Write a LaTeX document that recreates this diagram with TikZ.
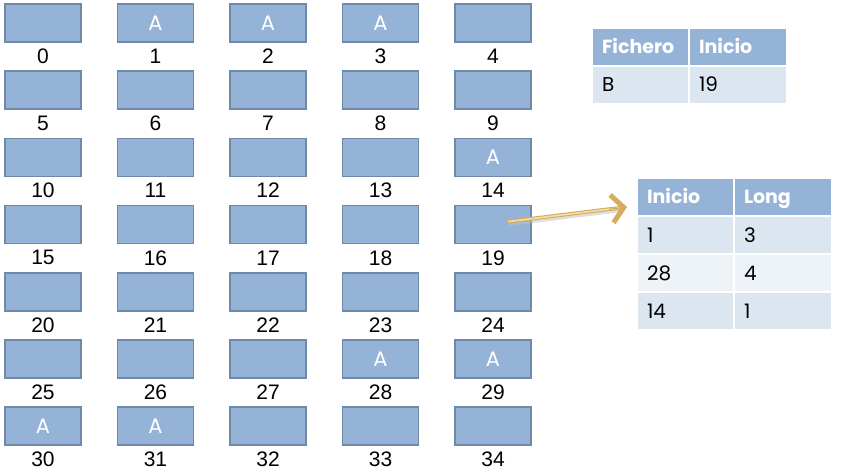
\documentclass[tikz,border=0pt]{standalone}
\usepackage{fontspec}
\setmainfont{Liberation Sans}
\newfontfamily\tabfont{Poppins}
\usetikzlibrary{arrows.meta,calc}
\definecolor{blk}{HTML}{95B3D7}
\definecolor{blkb}{HTML}{6F89A8}
\definecolor{rowa}{HTML}{DCE6F1}
\definecolor{rowb}{HTML}{EEF3F8}
\definecolor{goldc}{HTML}{D4AC5A}
\definecolor{goldl}{HTML}{F0DFAE}
\begin{document}
\begin{tikzpicture}[x=1pt,y=-1pt,
  block/.style={draw=blkb, fill=blk, line width=1.5pt, minimum width=76pt, minimum height=38pt,
    inner sep=0pt, font=\tabfont\fontsize{21}{21}\selectfont, text=white},
  num/.style={font=\fontsize{21}{21}\selectfont, inner sep=0pt},
  cell/.style={draw=white, line width=2pt, anchor=north west, inner xsep=10pt, inner ysep=0pt,
    minimum height=38pt, align=left, text height=14pt, text depth=0pt,
    font=\tabfont\fontsize{20}{20}\selectfont},
  hcell/.style={cell, fill=blk, text=white, font=\tabfont\bfseries\fontsize{19}{19}\selectfont},
  arrowshaft/.style={goldc, line width=1.1pt, double=goldl, double distance=1.6pt},
  arrowtip/.style={goldc, line width=1pt, -{Straight Barb[length=12pt,width=28pt,line width=5pt]}}]
\useasboundingbox (0,0) rectangle (853,473);
% blocks
\foreach \n/\t in {0/{},1/A,2/A,3/A,4/{},5/{},6/{},7/{},8/{},9/{},10/{},11/{},12/{},13/{},14/A,
  15/{},16/{},17/{},18/{},19/{},20/{},21/{},22/{},23/{},24/{},25/{},26/{},27/{},28/A,29/A,
  30/A,31/A,32/{},33/{},34/{}}{
  \pgfmathtruncatemacro\c{mod(\n,5)}
  \pgfmathtruncatemacro\r{div(\n,5)}
  \node[block] (b\n) at ({43+112.5*\c},{23+67.2*\r}) {\t};
  \node[num] (l\n) at ($(b\n.south)+(0,13.5)$) {\n};
}
% table 1
\node[hcell, text width=77pt] (fa) at (591,27) {Fichero};
\node[hcell, text width=78pt] (fb) at (688,27) {Inicio};
\node[cell, fill=rowa, text width=77pt] (fc) at (591,65) {B};
\node[cell, fill=rowa, text width=78pt] (fd) at (688,65) {19};
% table 2
\node[hcell, text width=77pt] (ta) at (636,177) {Inicio};
\node[hcell, text width=78pt] (tb) at (733,177) {Long};
\node[cell, fill=rowa, text width=77pt] (tc) at (636,215) {1};
\node[cell, fill=rowa, text width=78pt] (td) at (733,215) {3};
\node[cell, fill=rowb, text width=77pt] (te) at (636,253) {28};
\node[cell, fill=rowb, text width=78pt] (tf) at (733,253) {4};
\node[cell, fill=rowa, text width=77pt] (tg) at (636,291) {14};
\node[cell, fill=rowa, text width=78pt] (th) at (733,291) {1};
% arrow
\coordinate (as) at ($(b19.center)+(15,-3)$);
\coordinate (ae) at ($(ta.west)+(-9,10)$);
\draw[black!25, line width=2.5pt, opacity=0.5] ($(as)+(1,3)$) -- ($(ae)!8pt!(as)+(1,3)$);
\draw[arrowshaft] (as) -- ($(ae)!6pt!(as)$);
\draw[arrowtip] ($(ae)!18pt!(as)$) -- (ae);
\end{tikzpicture}
\end{document}
